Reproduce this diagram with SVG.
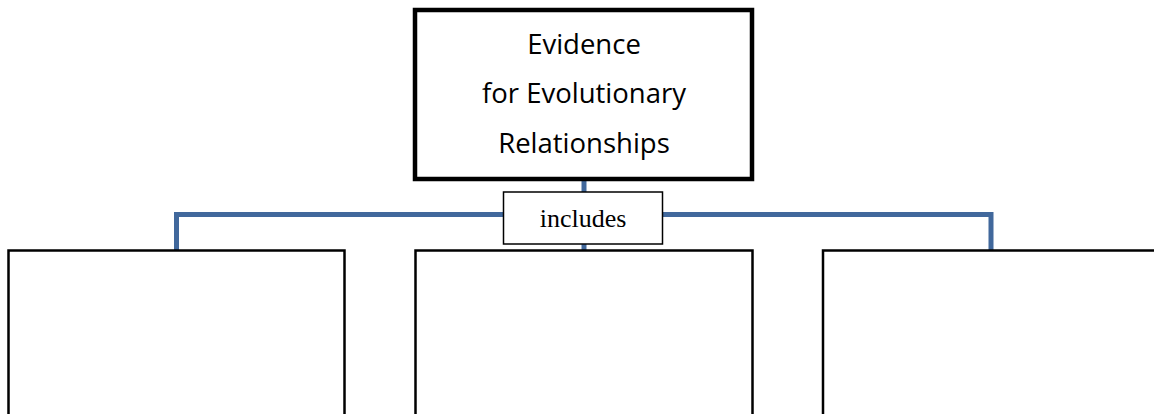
<svg xmlns="http://www.w3.org/2000/svg" width="1154" height="414" viewBox="0 0 1154 414">
<style>
.conn{fill:none;stroke:#41689C;stroke-width:5;stroke-linejoin:miter}
.box{fill:#fff;stroke:#000;stroke-width:2.5}
.main{fill:#fff;stroke:#000;stroke-width:4.5}
.lbl{fill:#fff;stroke:#000;stroke-width:1.5}
.t{font-family:"Open Sans","Liberation Sans",sans-serif;font-size:27.5px;fill:#000;text-anchor:middle}
.s{font-family:"Liberation Serif",serif;font-size:26px;fill:#000;text-anchor:middle}
</style>
<rect width="1154" height="414" fill="#fff"/>
<g id="connectors">
<path class="conn" d="M584 181 V250"/>
<path class="conn" d="M176.5 250 V214.5 H991 V250"/>
</g>
<g id="top">
<rect class="main" x="415" y="10" width="337" height="169"/>
<text class="t" x="584" y="54">Evidence</text>
<text class="t" x="584" y="103">for Evolutionary</text>
<text class="t" x="584" y="152.5">Relationships</text>
</g>
<g id="includes">
<rect class="lbl" x="503.5" y="192" width="159" height="52"/>
<text class="s" x="583" y="227">includes</text>
</g>
<g id="left">
<rect class="box" x="8.5" y="250.5" width="336" height="200"/>
</g>
<g id="center">
<rect class="box" x="415.5" y="250.5" width="337" height="200"/>
</g>
<g id="right">
<rect class="box" x="823" y="250.5" width="360" height="200"/>
</g>
</svg>
